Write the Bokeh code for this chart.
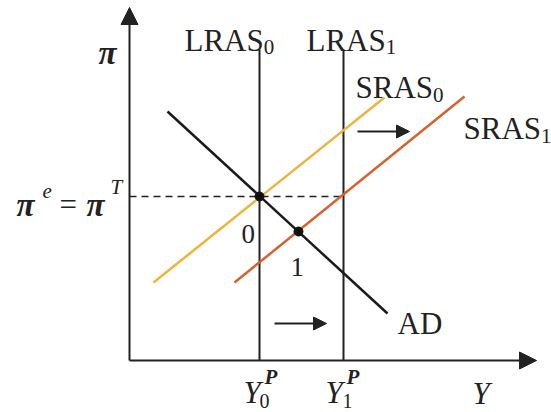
from bokeh.plotting import figure
from bokeh.models import Range1d, Arrow, NormalHead
from bokeh.core.properties import value
from bokeh.embed import file_html
from bokeh.resources import INLINE

# ---- data (diagram units, origin at the axes' corner) ----
Y0P = 130          # potential output before
Y1P = 214          # potential output after
PI_T = 164         # expected = target inflation
LRAS_TOP = 311
AD_x = [38, 258]
AD_y = [249, 47]
SRAS0_x = [24, 255]
SRAS0_y = [78, 263]
SRAS1_x = [105, 335]
SRAS1_y = [78, 264]
EQ_x = [Y0P, 169]
EQ_y = [PI_T, 129]
EQ_labels = ["0", "1"]
X_AXIS_END = 407
Y_AXIS_END = 353
SHIFT_upper = (228, 280, 229)
SHIFT_lower = (145, 197, 37)

OX, OY = 129, 360  # page pixel of origin (for placing labels)

def px(x):
    return x - OX

def py(y):
    return OY - y

p = figure(width=551, height=412, output_backend="svg", toolbar_location=None,
           x_range=Range1d(0 - OX, 551 - OX), y_range=Range1d(OY - 412, OY - 0),
           min_border=0)
p.axis.visible = False
p.grid.visible = False
p.outline_line_color = None
p.background_fill_color = "white"

FONT = value("Liberation Serif")
INK = "#222222"

# axes with arrow heads
for xe, ye in [(0, Y_AXIS_END), (X_AXIS_END, 0)]:
    p.add_layout(Arrow(x_start=0, y_start=0, x_end=xe, y_end=ye, line_width=2,
                       line_color=INK,
                       end=NormalHead(size=17, fill_color=INK, line_color=INK)))

# dashed expected inflation
p.line([0, Y1P], [PI_T, PI_T], line_dash="7 5", line_color=INK, line_width=1.5)

# LRAS
p.line([Y0P, Y0P], [0, LRAS_TOP], line_color=INK, line_width=2)
p.line([Y1P, Y1P], [0, LRAS_TOP], line_color=INK, line_width=2)

# SRAS
p.line(SRAS0_x, SRAS0_y, line_color="#F2B23E", line_width=2.5)
p.line(SRAS1_x, SRAS1_y, line_color="#D5622F", line_width=2.5)

# AD
p.line(AD_x, AD_y, line_color="#1a1a1a", line_width=2.5)

# equilibrium points
p.scatter(EQ_x, EQ_y, size=9, color="#111111")

# shift arrows
for (xs, xe, yy) in [SHIFT_upper, SHIFT_lower]:
    p.add_layout(Arrow(x_start=xs, y_start=yy, x_end=xe, y_end=yy, line_width=2,
                       line_color=INK,
                       end=NormalHead(size=13, fill_color=INK, line_color=INK)))

def txt(s, x_pix, y_pix, size, style="normal"):
    p.text(x=[px(x_pix)], y=[py(y_pix)], text=[s], text_font=FONT,
           text_font_size=f"{size}px", text_font_style=style, text_color=INK,
           text_baseline="alphabetic", text_align="left")

BIG = 31
SMALL = 21
W_LRAS = 2.556 * BIG
W_SRAS = 2.501 * BIG
# LRAS labels
txt("LRAS", 184, 40, BIG); txt("0", 184 + W_LRAS, 46, SMALL)
txt("LRAS", 306, 40, BIG); txt("1", 306 + W_LRAS, 46, SMALL)
# SRAS labels
txt("SRAS", 355, 87, BIG); txt("0", 355 + W_SRAS, 94, SMALL)
txt("SRAS", 463, 128, BIG); txt("1", 463 + W_SRAS, 135, SMALL)
# AD
txt("AD", 397, 323, BIG)
# y axis label
txt("π", 98, 52, 33, "bold italic")
txt("π", 16, 204, 33, "bold italic"); txt("e", 42, 190, SMALL, "italic")
txt("=", 59, 204, BIG); txt("π", 86, 204, 33, "bold italic"); txt("T", 110, 186, SMALL, "italic")
# equilibrium labels
txt(EQ_labels[0], 241, 233, 27)
txt(EQ_labels[1], 290, 266, 27)
# x axis labels
txt("Y", 243, 392, BIG, "italic"); txt("P", 264, 376, SMALL, "bold italic"); txt("0", 259, 400, 20)
txt("Y", 325, 392, BIG, "italic"); txt("P", 346, 376, SMALL, "bold italic"); txt("1", 342, 400, 20)
txt("Y", 472, 393, BIG, "italic")

open("out.html", "w").write(file_html(p, INLINE))
